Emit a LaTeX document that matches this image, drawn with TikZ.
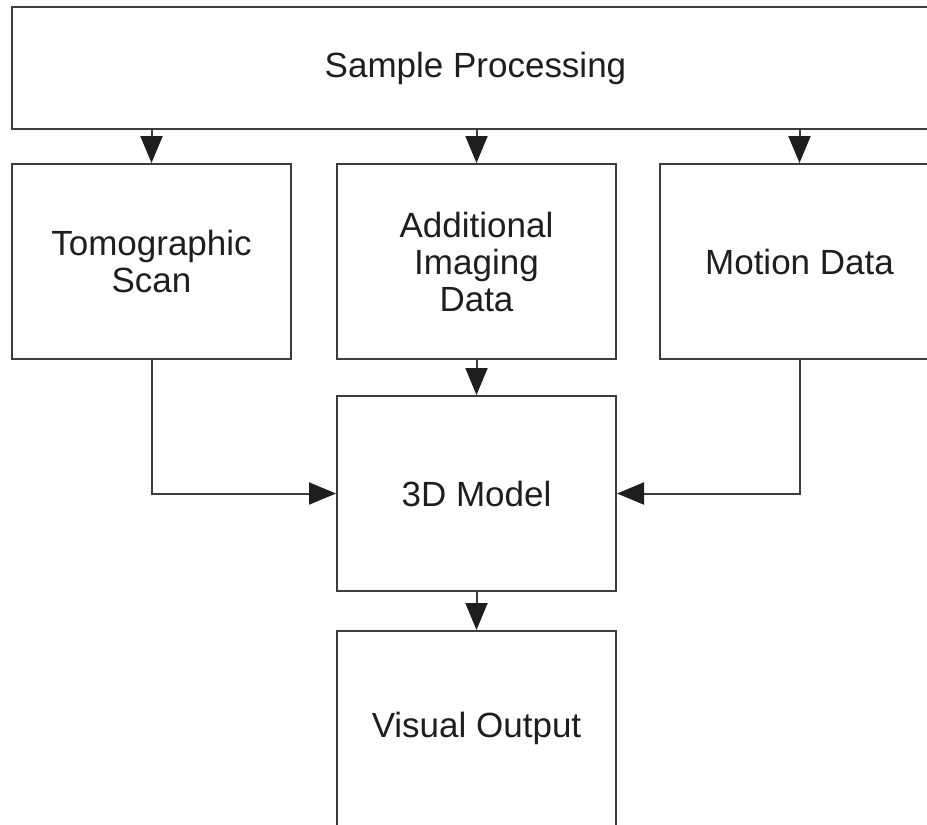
\documentclass[tikz,border=0pt]{standalone}
\usepackage{fontspec}
\setmainfont{Liberation Sans}
\usetikzlibrary{arrows.meta}
\definecolor{edgegray}{HTML}{3C3C3C}
\definecolor{tipblack}{HTML}{1E1E1E}

\begin{document}
\begin{tikzpicture}[x=1pt,y=-1pt,
  box/.style={draw=edgegray,line width=2pt,anchor=north west,inner sep=0pt,
    minimum width=279pt,minimum height=195pt,align=center,
    font=\fontsize{35}{37}\selectfont,text=tipblack},
  arr/.style={draw=edgegray,line width=2pt,-{Triangle[length=27pt,width=22pt,color=tipblack]}}]
\useasboundingbox (0,0) rectangle (927,825);
\clip (0,0) rectangle (927,825);
\node[box,minimum width=927pt,minimum height=122pt] (sample) at (11,6) {Sample Processing};
\node[box] (tomo) at (11,163) {Tomographic\\Scan};
\node[box] (imaging) at (336,163) {Additional\\Imaging\\Data};
\node[box] (motion) at (659,163) {Motion Data};
\node[box] (model) at (336,395) {3D Model};
\node[box] (visual) at (336,630) {Visual Output};
\draw[arr] (tomo.north |- sample.south) -- (tomo.north);
\draw[arr] (imaging.north |- sample.south) -- (imaging.north);
\draw[arr] (motion.north |- sample.south) -- (motion.north);
\draw[arr] (imaging.south) -- (model.north);
\draw[arr] (tomo.south) |- (model.west);
\draw[arr] (motion.south) |- (model.east);
\draw[arr] (model.south) -- (visual.north);
\end{tikzpicture}
\end{document}
